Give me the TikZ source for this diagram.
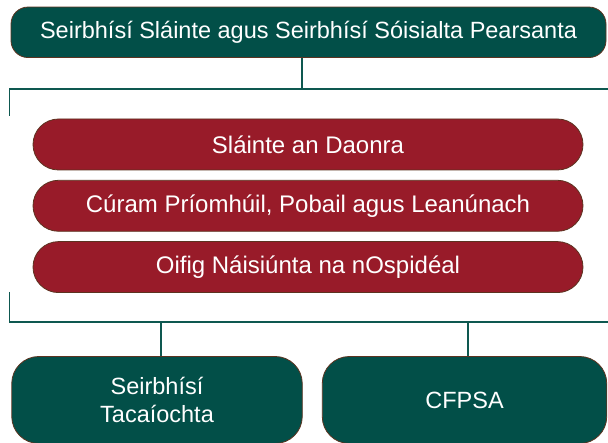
\documentclass[tikz,border=0pt]{standalone}
\usepackage{fontspec}
\setmainfont{Liberation Sans}
\usetikzlibrary{positioning}
\definecolor{hsegreen}{HTML}{024F48}
\definecolor{hsered}{HTML}{981B29}
\definecolor{hseedge}{HTML}{5C3320}
\definecolor{hseline}{HTML}{0E5850}

\begin{document}
\begin{tikzpicture}[x=1pt,y=-1pt,node distance=9.5pt,
 box/.style={draw=hseedge,line width=0.8pt,text=white,
  font=\fontsize{23.5}{28}\selectfont,align=center,inner sep=0pt},
 top node/.style={box,fill=hsegreen,minimum width=595pt,
  minimum height=50.5pt,rounded corners=17pt},
 unit node/.style={box,fill=hsered,minimum width=550pt,
  minimum height=51pt,rounded corners=25.5pt,font=\fontsize{24}{28}\selectfont},
 base node/.style={box,fill=hsegreen,minimum height=87pt,rounded corners=27pt},
 link/.style={draw=hseline,line width=1.7pt}]

  \useasboundingbox (0,0) rectangle (608,443);

  \node[top node] (hse) at (308.5,32.3) {Seirbhísí Sláinte agus Seirbhísí Sóisialta Pearsanta};
  \node[unit node] (pop) at (308,144.5) {Sláinte an Daonra};
  \node[unit node] (ccc) [below=of pop] {Cúram Príomhúil, Pobail agus Leanúnach};
  \node[unit node] (nho) [below=of ccc] {Oifig Náisiúnta na nOspidéal};
  \node[base node,minimum width=290.5pt] (sup) at (157,400) {Seirbhísí\\Tacaíochta};
  \node[base node,minimum width=284.5pt] (cfp) at (464.5,400) {CFPSA};

  % brackets round the three units
  \coordinate (tl) at (9.5,89);
  \coordinate (tr) at (612,89);
  \coordinate (tlend) at (9.5,116);
  \coordinate (hj) at (302.3,89);
  \coordinate (bl) at (9.5,321.7);
  \coordinate (br) at (612,321.7);
  \coordinate (blend) at (9.5,292);
  \coordinate (sj) at (160.7,321.7);
  \coordinate (cj) at (468,321.7);

  \draw[link] (hse.south -| hj) -- (hj);
  \draw[link] (tlend) -- (tl) -- (tr);
  \draw[link] (blend) -- (bl) -- (br);
  \foreach \j/\n in {sj/sup, cj/cfp} {
   \draw[link] (\j) -- (\j |- \n.north);}

\end{tikzpicture}
\end{document}
